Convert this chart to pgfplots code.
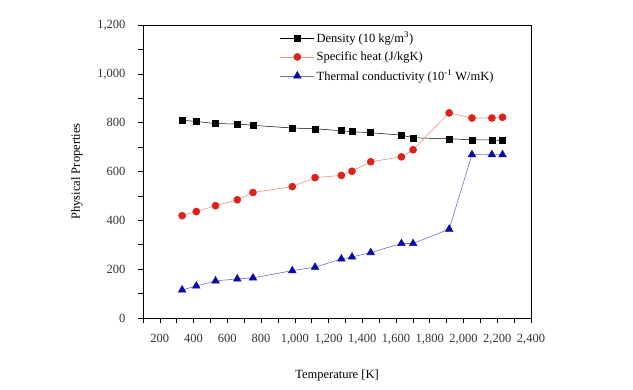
\documentclass[border=0pt]{standalone}
\usepackage{pgfplots}
\pgfplotsset{compat=1.18}
\usepackage{fontspec}
\setmainfont{Liberation Serif}
\definecolor{redpt}{HTML}{E0201B}
\definecolor{bluept}{HTML}{0A0AA8}
\definecolor{redln}{HTML}{E89088}
\definecolor{blueln}{HTML}{7070C0}
\begin{document}
\begin{tikzpicture}[x=1pt,y=1pt]
\useasboundingbox (-143,-71) rectangle (490,318);
\begin{axis}[
  scale only axis,
  width=388pt, height=293pt,
  at={(0,0)}, anchor=south west,
  xmin=100, xmax=2400, ymin=0, ymax=1200,
  xtick={200,400,...,2400},
  minor xtick={100,300,...,2300},
  ytick={0,200,...,1200},
  minor ytick={100,300,...,1100},
  axis line style={black, line width=0.8pt},
  tick align=outside,
  major tick length=5pt, minor tick length=5pt,
  every tick/.style={black, line width=0.6pt},
  xtick pos=bottom, ytick pos=left,
  /pgf/number format/assume math mode=true,
  /pgf/number format/1000 sep={,},
  ticklabel style={font=\fontsize{12.5}{14}\selectfont, text=black!80},
  xticklabel style={yshift=-8pt},
  yticklabel style={xshift=-9pt},
  xlabel={Temperature [K]},
  ylabel={Physical Properties},
  label style={font=\fontsize{12.5}{14}\selectfont},
  xlabel style={yshift=-18pt},
  ylabel style={yshift=8pt},
  legend style={draw=none, fill=none, at={(0.345,0.99)}, anchor=north west, font=\fontsize{12.5}{14}\selectfont, row sep=4pt},
  legend cell align=left,
  legend image code/.code={\draw[mark repeat=2,mark phase=2] plot coordinates {(0pt,0pt)(17pt,0pt)(34pt,0pt)};},
]
\addplot[black, line width=0.5pt, mark=square*, mark size=3pt, mark options={black}] coordinates {
(332,810)(416,805)(530,796)(659,795)(752,789)(985,778)(1120,775)(1276,767)(1339,763)(1450,759)(1632,749)(1701,738)(1915,734)(2050,730)(2168,730)(2231,726)
};
\addlegendentry{Density (10 kg/m\textsuperscript{3})}
\addplot[redln, line width=0.6pt, mark=*, mark size=3.5pt, mark options={redpt, fill=redpt}] coordinates {
(332,419)(416,436)(530,460)(659,484)(752,514)(985,538)(1120,575)(1276,584)(1339,601)(1450,640)(1632,660)(1701,689)(1915,840)(2050,819)(2168,819)(2231,822)
};
\addlegendentry{Specific heat (J/kgK)}
\addplot[blueln, line width=0.6pt, mark=triangle*, mark size=4.3pt, mark options={bluept, fill=bluept}] coordinates {
(332,115)(416,131)(530,152)(659,160)(752,164)(985,194)(1120,208)(1276,242)(1339,250)(1450,268)(1632,305)(1701,305)(1915,364)(2050,669)(2168,669)(2231,669)
};
\addlegendentry{Thermal conductivity (10\textsuperscript{-1} W/mK)}
\end{axis}
\end{tikzpicture}
\end{document}
